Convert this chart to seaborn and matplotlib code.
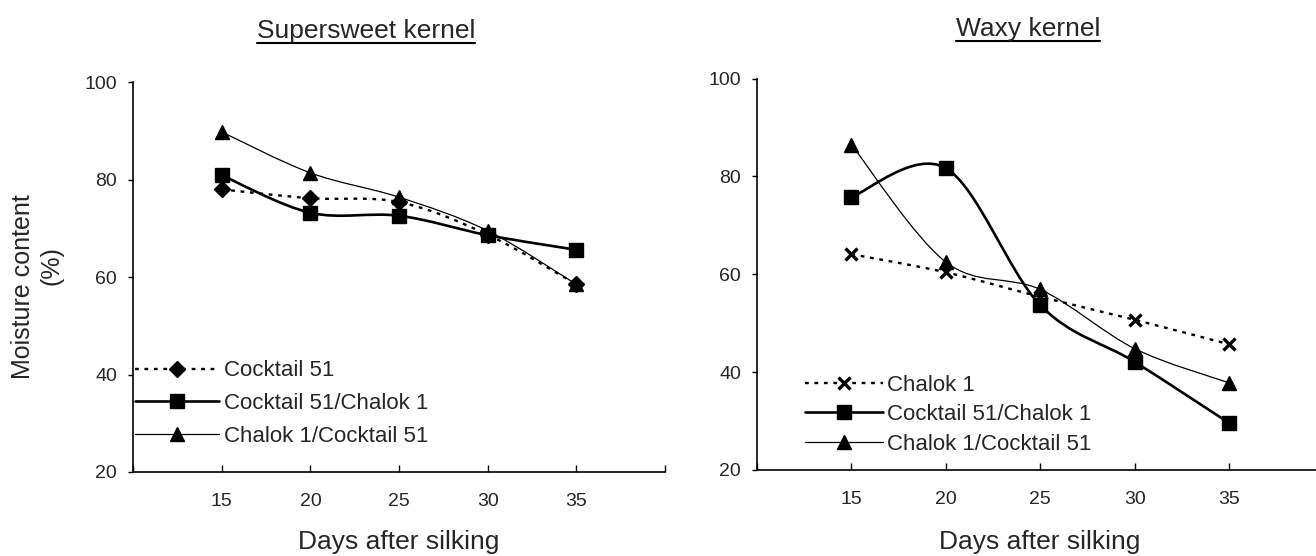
import matplotlib
matplotlib.use("Agg")
import matplotlib.pyplot as plt
import seaborn as sns
import pandas as pd
from matplotlib.path import Path
from matplotlib.patches import PathPatch
from matplotlib.lines import Line2D

# ---- data ----
days = [15, 20, 25, 30, 35]

# Supersweet kernel
sweet_cocktail51 = [78.0, 76.2, 75.4, 68.7, 58.5]
sweet_cocktail_chalok = [80.9, 73.2, 72.6, 68.6, 65.6]
sweet_chalok_cocktail = [89.8, 81.4, 76.4, 69.5, 58.5]

# Waxy kernel
waxy_chalok1 = [64.1, 60.4, 55.4, 50.7, 45.7]
waxy_cocktail_chalok = [75.8, 81.7, 53.7, 42.1, 29.6]
waxy_chalok_cocktail = [86.5, 62.5, 56.9, 44.8, 37.8]

sweet_labels = ["Cocktail 51", "Cocktail 51/Chalok 1", "Chalok 1/Cocktail 51"]
waxy_labels = ["Chalok 1", "Cocktail 51/Chalok 1", "Chalok 1/Cocktail 51"]

sns.set_theme(style="white")
plt.rcParams["font.family"] = ["Liberation Sans", "DejaVu Sans"]

DOTTED = (0, (1.6, 2.4))

# line / marker style per series type
styles = {
    "dotted_D": dict(ls=DOTTED, lw=1.7, marker="D", ms=8, mew=1),
    "dotted_x": dict(ls=DOTTED, lw=1.7, marker="x", ms=8, mew=2.4),
    "square": dict(ls="-", lw=1.9, marker="s", ms=9.5, mew=1),
    "triangle": dict(ls="-", lw=0.9, marker="^", ms=10, mew=1),
}


def smooth_path(x, y):
    # Excel-like smoothed line (Catmull-Rom converted to cubic Bezier)
    pts = list(zip(x, y))
    n = len(pts)
    verts = [pts[0]]
    codes = [Path.MOVETO]
    for i in range(n - 1):
        p0 = pts[i - 1] if i > 0 else pts[i]
        p1 = pts[i]
        p2 = pts[i + 1]
        p3 = pts[i + 2] if i + 2 < n else pts[i + 1]
        c1 = (p1[0] + (p2[0] - p0[0]) / 6, p1[1] + (p2[1] - p0[1]) / 6)
        c2 = (p2[0] - (p3[0] - p1[0]) / 6, p2[1] - (p3[1] - p1[1]) / 6)
        verts += [c1, c2, p2]
        codes += [Path.CURVE4] * 3
    return Path(verts, codes)


def draw_series(ax, values, kind):
    st = styles[kind]
    ax.add_patch(PathPatch(smooth_path(days, values), fill=False,
                           edgecolor="black", lw=st["lw"], linestyle=st["ls"],
                           zorder=2))
    df = pd.DataFrame({"day": days, "moisture": values})
    sns.lineplot(data=df, x="day", y="moisture", ax=ax, color="black",
                 linestyle="none", marker=st["marker"], markersize=st["ms"],
                 markeredgewidth=st["mew"], markeredgecolor="black",
                 legend=False, zorder=3)
    return Line2D([], [], color="black", linestyle=st["ls"], lw=st["lw"],
                  marker=st["marker"], markersize=st["ms"],
                  markeredgewidth=st["mew"])


def style_axes(ax):
    ax.set_xlim(10, 40)
    ax.set_ylim(20, 100)
    ax.set_xticks(days)
    ax.set_xticks([10, 40], minor=True)
    ax.set_yticks([20, 40, 60, 80, 100])
    for s in ["top", "right"]:
        ax.spines[s].set_visible(False)
    for s in ["left", "bottom"]:
        ax.spines[s].set_color("black")
        ax.spines[s].set_linewidth(1.2)
    ax.tick_params(axis="x", which="both", direction="in", length=5,
                   width=1, color="black", pad=15, labelsize=14,
                   bottom=True)
    ax.tick_params(axis="y", direction="out", length=3.5, width=1,
                   color="black", pad=8, labelsize=14, left=True)
    ax.set_xlabel("")
    ax.set_ylabel("")
    ax.grid(False)


fig = plt.figure(figsize=(13.16, 5.56), dpi=100)
ax1 = fig.add_axes([0.1011, 0.1511, 0.4043, 0.701])
ax2 = fig.add_axes([0.5752, 0.1547, 0.4305, 0.704])

h1 = [draw_series(ax1, sweet_cocktail51, "dotted_D"),
      draw_series(ax1, sweet_cocktail_chalok, "square"),
      draw_series(ax1, sweet_chalok_cocktail, "triangle")]
h2 = [draw_series(ax2, waxy_chalok1, "dotted_x"),
      draw_series(ax2, waxy_cocktail_chalok, "square"),
      draw_series(ax2, waxy_chalok_cocktail, "triangle")]

for ax in (ax1, ax2):
    style_axes(ax)

ax1.legend(h1, sweet_labels, loc="upper left", bbox_to_anchor=(0.1026, 0.352),
           bbox_transform=fig.transFigure, frameon=False, fontsize=16,
           borderpad=0, borderaxespad=0, handlelength=3.8, handletextpad=0.2,
           labelspacing=0.53, numpoints=1)
ax2.legend(h2, waxy_labels, loc="upper left", bbox_to_anchor=(0.6117, 0.326),
           bbox_transform=fig.transFigure, frameon=False, fontsize=16,
           borderpad=0, borderaxespad=0, handlelength=3.5, handletextpad=0.2,
           labelspacing=0.38, numpoints=1)

# axis titles
for x in (399 / 1316, 1040 / 1316):
    fig.text(x, 7 / 556, "Days after silking", ha="center", va="baseline",
             fontsize=19)
fig.text(0.0175, 0.4847, "Moisture content", rotation=90, ha="center",
         va="center", fontsize=18)
fig.text(0.0395, 0.5216, "(%)", rotation=90, ha="center", va="center",
         fontsize=18)

# underlined panel titles
titles = [(366 / 1316, 0.9317, "Supersweet kernel"),
          (1028 / 1316, 0.936, "Waxy kernel")]
renderer = fig.canvas.get_renderer()
for x, y, txt in titles:
    t = fig.text(x, y, txt, ha="center", va="baseline", fontsize=19)
    bb = t.get_window_extent(renderer=renderer)
    uy = y - 5 / 556
    fig.add_artist(Line2D([bb.x0 / 1316, bb.x1 / 1316], [uy, uy],
                          transform=fig.transFigure, color="black", lw=1.5))

fig.savefig("out.png", dpi=100)
